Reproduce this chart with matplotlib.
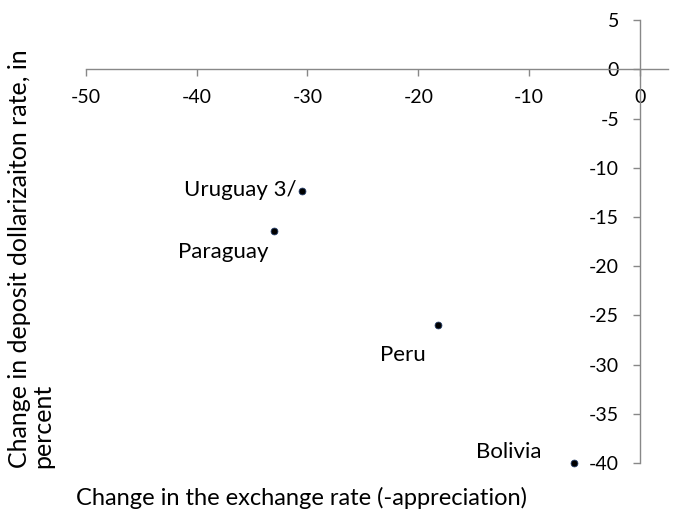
import matplotlib
matplotlib.use("Agg")
import matplotlib.pyplot as plt

countries = ["Uruguay 3/", "Paraguay", "Peru", "Bolivia"]
fx_change = [-30.5, -33.0, -18.2, -6.0]
dollarization_change = [-12.4, -16.4, -26.0, -40.0]
label_offsets = [(-5, -5), (-51, -27), (-35, -36), (-65, 5)]
label_ha = ["right", "center", "center", "center"]

x_ticks = [-50, -40, -30, -20, -10, 0]
y_ticks = [5, 0, -5, -10, -15, -20, -25, -30, -35, -40]

plt.rcParams['font.family'] = ['Lato', 'DejaVu Sans']
plt.rcParams['axes.unicode_minus'] = False

fig = plt.figure(figsize=(6.8, 5.12), dpi=100)
ax = fig.add_axes([0.126, 0.0957, 0.856, 0.865])

ax.scatter(fx_change, dollarization_change, s=24, color='black',
           edgecolors='#1f3864', linewidths=0.6, zorder=3, clip_on=False)

for name, x, y, off, ha in zip(countries, fx_change, dollarization_change,
                               label_offsets, label_ha):
    ax.annotate(name, (x, y), xytext=off, textcoords='offset pixels',
                ha=ha, va='baseline', fontsize=16)

ax.set_xlim(-50, 2.5)
ax.set_ylim(-40, 5)
ax.set_xticks(x_ticks)
ax.set_yticks(y_ticks)

for s in ['top', 'right']:
    ax.spines[s].set_visible(False)
ax.spines['left'].set_position(('data', 0))
ax.spines['bottom'].set_position(('data', 0))
for s in ['left', 'bottom']:
    ax.spines[s].set_color('#888888')
    ax.spines[s].set_linewidth(1.0)
ax.tick_params(axis='both', direction='out', length=5, color='#888888',
               labelsize=14, width=1.0)
ax.tick_params(axis='x', pad=9)
ax.tick_params(axis='y', pad=10)

fig.text(0.443, 0.027, "Change in the exchange rate (-appreciation)",
         ha='center', va='center', fontsize=17)
fig.text(0.012, 0.086, "Change in deposit dollarizaiton rate, in\npercent",
         rotation=90, ha='left', va='bottom', fontsize=18,
         multialignment='left', linespacing=1.0)

fig.savefig("out.png", dpi=100)
